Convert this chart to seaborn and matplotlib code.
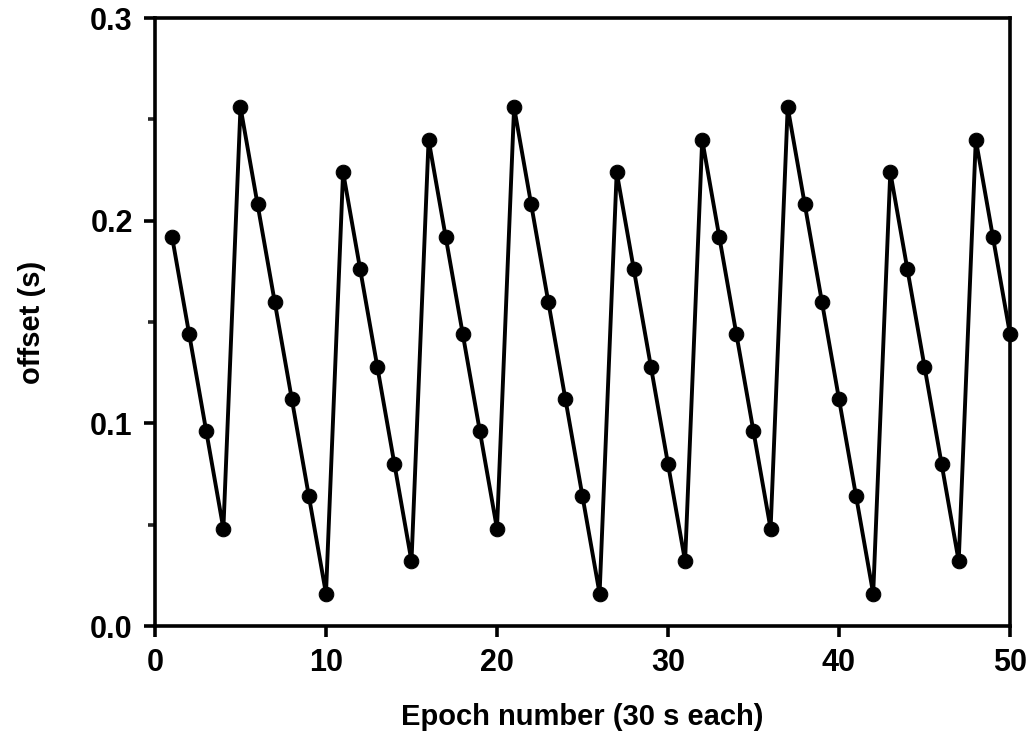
import numpy as np
import pandas as pd
import matplotlib.pyplot as plt
from matplotlib.ticker import MultipleLocator
import seaborn as sns

# epoch index and clock offset
epochs = list(range(1, 51))
offsets = [
    0.192, 0.144, 0.096, 0.048,
    0.256, 0.208, 0.160, 0.112, 0.064, 0.016,
    0.224, 0.176, 0.128, 0.080, 0.032,
    0.240, 0.192, 0.144, 0.096, 0.048,
    0.256, 0.208, 0.160, 0.112, 0.064, 0.016,
    0.224, 0.176, 0.128, 0.080, 0.032,
    0.240, 0.192, 0.144, 0.096, 0.048,
    0.256, 0.208, 0.160, 0.112, 0.064, 0.016,
    0.224, 0.176, 0.128, 0.080, 0.032,
    0.240, 0.192, 0.144,
]
x_ticks = [0, 10, 20, 30, 40, 50]
y_ticks = [0.0, 0.1, 0.2, 0.3]

df = pd.DataFrame({'epoch': epochs, 'offset': offsets})

sns.set_style('ticks')
plt.rcParams['font.family'] = ['Liberation Sans', 'DejaVu Sans']
plt.rcParams['font.weight'] = 'bold'
plt.rcParams['axes.labelcolor'] = 'black'

fig = plt.figure(figsize=(10.36, 7.45), dpi=100)
ax = fig.add_axes([0.1496, 0.1597, 0.9749 - 0.1496, 0.9758 - 0.1597])

sns.lineplot(data=df, x='epoch', y='offset', ax=ax, color='black',
             linewidth=2.8, marker='o', markersize=10.5,
             markeredgecolor='black', markerfacecolor='black', clip_on=False)

ax.set_xlim(0, 50)
ax.set_ylim(0, 0.3)
ax.set_xticks(x_ticks)
ax.set_yticks(y_ticks)
ax.set_xticklabels([str(t) for t in x_ticks])
ax.set_yticklabels([f'{t:.1f}' for t in y_ticks])
ax.yaxis.set_minor_locator(MultipleLocator(0.05))

for s in ax.spines.values():
    s.set_linewidth(2.6)
    s.set_color('black')
ax.tick_params(axis='both', which='major', direction='out', length=8, width=2.6,
               labelsize=22, pad=8, colors='black')
ax.tick_params(axis='y', which='minor', direction='out', length=5, width=2.6)
for lab in ax.get_xticklabels() + ax.get_yticklabels():
    lab.set_fontweight('bold')

ax.set_xlabel('Epoch number (30 s each)', fontsize=21, fontweight='bold',
              color='black', labelpad=18)
ax.set_ylabel('offset (s)', fontsize=21, fontweight='bold',
              color='black', labelpad=32)

fig.savefig('out.png', dpi=100, facecolor='white')
